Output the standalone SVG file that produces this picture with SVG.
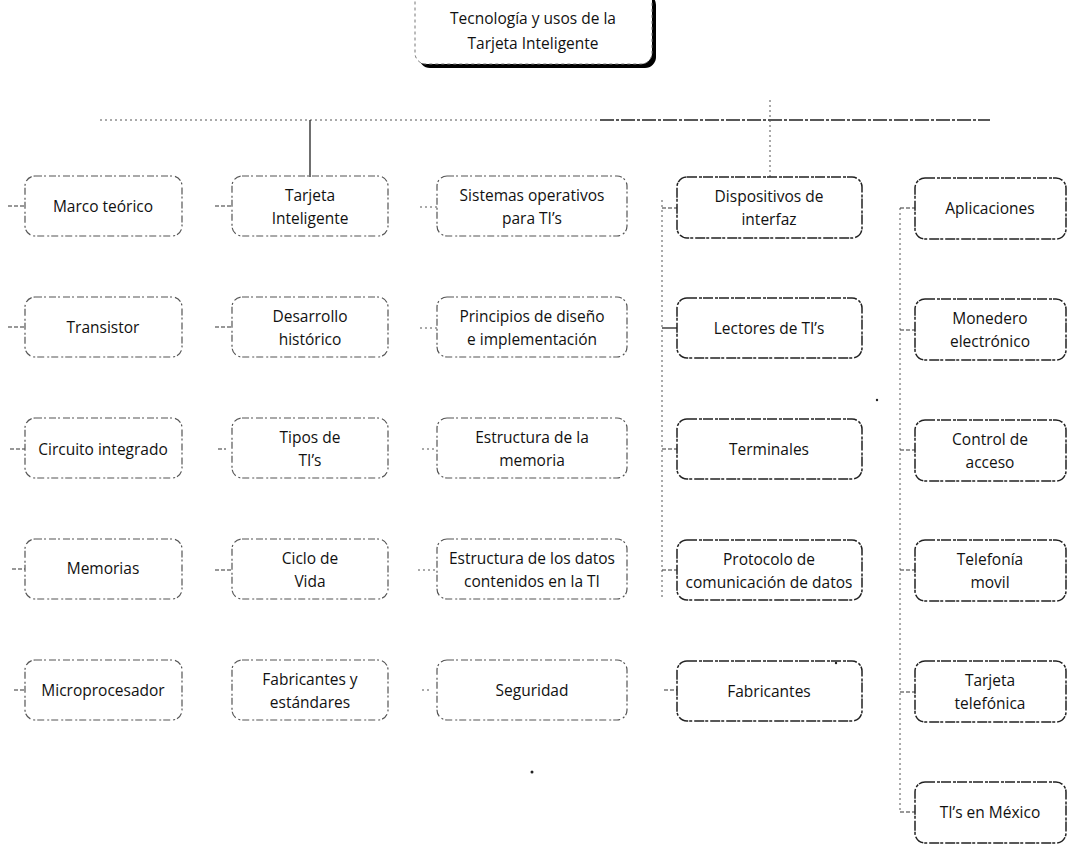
<svg xmlns="http://www.w3.org/2000/svg" width="1073" height="857" viewBox="0 0 1073 857">
<style>
  .box { fill: none; stroke: #555; stroke-width: 1.2; stroke-dasharray: 7 2 2 3; }
  .box2 { fill: none; stroke: #222; stroke-width: 1.5; stroke-dasharray: 10 2 3 1; }
  .t { font-family: "Open Sans", "DejaVu Sans", sans-serif; font-size: 15.5px; fill: #111; text-anchor: middle; }
  .c { fill: none; stroke: #333; stroke-width: 1.2; stroke-dasharray: 4 2; }
  .cs { fill: none; stroke: #222; stroke-width: 1.3; }
  .cf { fill: none; stroke: #555; stroke-width: 1; stroke-dasharray: 2 3; }
</style>
<rect width="1073" height="857" fill="#fff"/>

<g id="title">
  <rect x="419" y="-6" width="237" height="74" rx="11" fill="#000"/>
  <rect x="415" y="-10" width="237" height="74" rx="11" fill="#fff" stroke="#777" stroke-width="1" stroke-dasharray="3 3"/>
  <text class="t" x="533" y="24">Tecnología y usos de la</text>
  <text class="t" x="533" y="49">Tarjeta Inteligente</text>
</g>

<g id="connectors">
  <path class="cf" d="M100 120 H600"/>
  <path class="cs" d="M600 120 H990" stroke-dasharray="14 2 3 2"/>
  <path class="cs" d="M310 120 V177"/>
  <path class="cf" d="M770 100 V177"/>
  <path class="c" d="M8 206 H25 M8 327 H25 M10 449 H25 M12 569 H25 M14 690 H25"/>
  <path class="c" d="M215 206 H232 M215 327 H232 M218 449 H226 M215 570 H232"/>
  <path class="cf" d="M420 207 H437 M420 328 H437 M422 449 H437 M418 570 H437 M422 690 H430"/>
  <path class="cf" d="M662 200 V600"/>
  <path class="c" d="M662 208 H677 M662 449 H677 M662 570 H677 M664 690 H677"/>
  <path class="cs" d="M662 328 H677"/>
  <path class="cf" d="M900 208 V812" stroke-dasharray="4 3"/>
  <path class="c" d="M900 208 H915 M900 330 H915 M900 450 H915 M900 570 H915 M900 692 H915 M900 812 H915"/>
  <circle cx="532" cy="772" r="1.5" fill="#222"/>
  <circle cx="836" cy="663" r="1.2" fill="#222"/>
  <circle cx="877" cy="400" r="1.2" fill="#222"/>
</g>

<g id="n-marco"><rect class="box" x="25" y="176" width="157" height="60" rx="10"/><text class="t" x="103" y="212">Marco teórico</text></g>
<g id="n-transistor"><rect class="box" x="25" y="297" width="157" height="60" rx="10"/><text class="t" x="103" y="333">Transistor</text></g>
<g id="n-circuito"><rect class="box" x="25" y="418" width="157" height="60" rx="10"/><text class="t" x="103" y="455">Circuito integrado</text></g>
<g id="n-memorias"><rect class="box" x="25" y="539" width="157" height="60" rx="10"/><text class="t" x="103" y="574">Memorias</text></g>
<g id="n-micro"><rect class="box" x="25" y="660" width="157" height="60" rx="10"/><text class="t" x="103" y="696">Microprocesador</text></g>

<g id="n-tarjeta"><rect class="box" x="232" y="176" width="156" height="60" rx="10"/><text class="t" x="310" y="201">Tarjeta</text><text class="t" x="310" y="224">Inteligente</text></g>
<g id="n-desarrollo"><rect class="box" x="232" y="297" width="156" height="60" rx="10"/><text class="t" x="310" y="322">Desarrollo</text><text class="t" x="310" y="345">histórico</text></g>
<g id="n-tipos"><rect class="box" x="232" y="418" width="156" height="60" rx="10"/><text class="t" x="310" y="443">Tipos de</text><text class="t" x="310" y="466">TI’s</text></g>
<g id="n-ciclo"><rect class="box" x="232" y="539" width="156" height="60" rx="10"/><text class="t" x="310" y="564">Ciclo de</text><text class="t" x="310" y="587">Vida</text></g>
<g id="n-fabest"><rect class="box" x="232" y="660" width="156" height="60" rx="10"/><text class="t" x="310" y="685">Fabricantes y</text><text class="t" x="310" y="708">estándares</text></g>

<g id="n-sistemas"><rect class="box" x="437" y="176" width="190" height="60" rx="10"/><text class="t" x="532" y="201">Sistemas operativos</text><text class="t" x="532" y="224">para TI’s</text></g>
<g id="n-principios"><rect class="box" x="437" y="297" width="190" height="60" rx="10"/><text class="t" x="532" y="322">Principios de diseño</text><text class="t" x="532" y="345">e implementación</text></g>
<g id="n-estmem"><rect class="box" x="437" y="418" width="190" height="60" rx="10"/><text class="t" x="532" y="443">Estructura de la</text><text class="t" x="532" y="466">memoria</text></g>
<g id="n-estdat"><rect class="box" x="437" y="539" width="190" height="60" rx="10"/><text class="t" x="532" y="564">Estructura de los datos</text><text class="t" x="532" y="587">contenidos en la TI</text></g>
<g id="n-seguridad"><rect class="box" x="437" y="660" width="190" height="60" rx="10"/><text class="t" x="532" y="696">Seguridad</text></g>

<g id="n-dispositivos"><rect class="box2" x="677" y="177" width="185" height="61" rx="10"/><text class="t" x="769" y="202">Dispositivos de</text><text class="t" x="769" y="225">interfaz</text></g>
<g id="n-lectores"><rect class="box2" x="677" y="298" width="185" height="60" rx="10"/><text class="t" x="769" y="334">Lectores de TI’s</text></g>
<g id="n-terminales"><rect class="box2" x="677" y="419" width="185" height="60" rx="10"/><text class="t" x="769" y="455">Terminales</text></g>
<g id="n-protocolo"><rect class="box2" x="677" y="540" width="185" height="60" rx="10"/><text class="t" x="769" y="565">Protocolo de</text><text class="t" x="769" y="588">comunicación de datos</text></g>
<g id="n-fabricantes"><rect class="box2" x="677" y="661" width="185" height="60" rx="10"/><text class="t" x="769" y="697">Fabricantes</text></g>

<g id="n-aplicaciones"><rect class="box2" x="915" y="178" width="151" height="61" rx="10"/><text class="t" x="990" y="214">Aplicaciones</text></g>
<g id="n-monedero"><rect class="box2" x="915" y="299" width="151" height="61" rx="10"/><text class="t" x="990" y="324">Monedero</text><text class="t" x="990" y="347">electrónico</text></g>
<g id="n-control"><rect class="box2" x="915" y="420" width="151" height="61" rx="10"/><text class="t" x="990" y="445">Control de</text><text class="t" x="990" y="468">acceso</text></g>
<g id="n-telefonia"><rect class="box2" x="915" y="540" width="151" height="61" rx="10"/><text class="t" x="990" y="565">Telefonía</text><text class="t" x="990" y="588">movil</text></g>
<g id="n-tarjtel"><rect class="box2" x="915" y="661" width="151" height="61" rx="10"/><text class="t" x="990" y="686">Tarjeta</text><text class="t" x="990" y="709">telefónica</text></g>
<g id="n-mexico"><rect class="box2" x="915" y="782" width="151" height="61" rx="10"/><text class="t" x="990" y="818">TI’s en México</text></g>
</svg>
